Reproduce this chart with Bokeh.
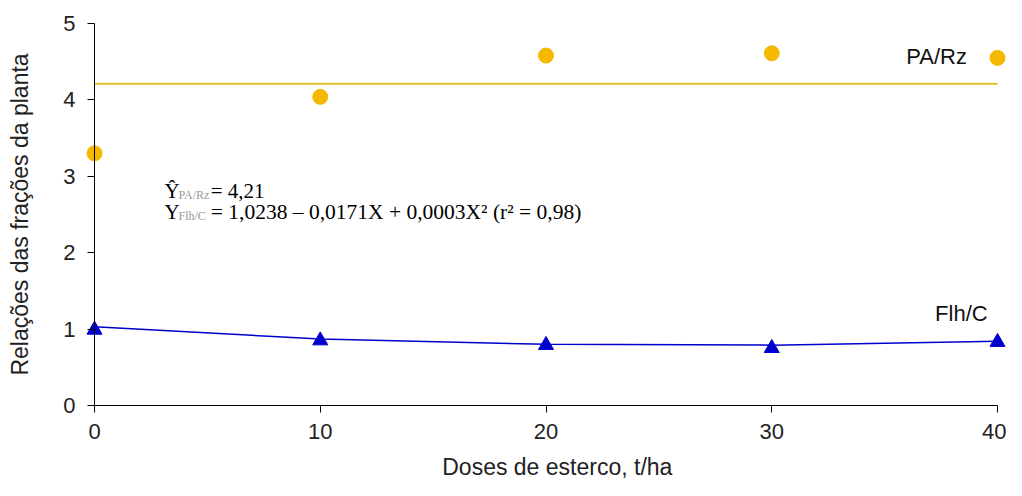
import math
from bokeh.plotting import figure
from bokeh.models import Range1d, Label, FixedTicker
from bokeh.embed import file_html
from bokeh.resources import INLINE

doses = [0, 10, 20, 30, 40]
pa_rz = [3.30, 4.04, 4.58, 4.61, 4.55]
pa_rz_mean = [4.21, 4.21, 4.21, 4.21, 4.21]
flh_c = [0.99, 0.85, 0.79, 0.75, 0.83]
flh_c_fit = [1.03, 0.87, 0.80, 0.79, 0.84]
x_ticks = [0, 10, 20, 30, 40]
y_ticks = [0, 1, 2, 3, 4, 5]

YEL = "#F5B800"
YEL_LINE = "#E6BE2A"
BLUE = "#0000CC"
TXT = "#222222"
SANS = "Liberation Sans"
SERIF = "Liberation Serif"

p = figure(width=1006, height=480, output_backend="svg", toolbar_location=None,
           x_range=Range1d(-4.164, 40.398), y_range=Range1d(-0.982, 5.301),
           min_border_left=0, min_border_right=0, min_border_top=0, min_border_bottom=0)
p.outline_line_color = None
p.xgrid.visible = False
p.ygrid.visible = False

for ax in (p.xaxis[0], p.yaxis[0]):
    ax.axis_line_color = "black"
    ax.major_tick_line_color = "black"
    ax.minor_tick_line_color = None
    ax.major_tick_in = 0
    ax.major_tick_out = 7
    ax.major_label_text_font = SANS
    ax.major_label_text_font_size = "22px"
    ax.major_label_text_color = TXT
    ax.axis_label_text_font = SANS
    ax.axis_label_text_font_size = "23px"
    ax.axis_label_text_font_style = "normal"
    ax.axis_label_text_color = TXT

p.xaxis.ticker = FixedTicker(ticks=x_ticks)
p.yaxis.ticker = FixedTicker(ticks=y_ticks)
p.xaxis.bounds = (0, 40)
p.yaxis.bounds = (0, 5)
p.xaxis.fixed_location = 0
p.yaxis.fixed_location = 0
p.xaxis.major_label_standoff = 12
p.yaxis.major_label_standoff = 12
p.yaxis.axis_label = "Relações das frações da planta"
p.yaxis.axis_label_standoff = 27

p.line(doses, pa_rz_mean, line_color=YEL_LINE, line_width=2)
p.scatter(doses, pa_rz, marker="circle", size=15, fill_color=YEL, line_color=YEL)
p.line(doses, flh_c_fit, line_color=BLUE, line_width=1.5)
p.scatter(doses, flh_c, marker="triangle", size=15, fill_color=BLUE, line_color=BLUE)

# x axis title
p.add_layout(Label(x=20.5, y=-0.81, text="Doses de esterco, t/ha", text_align="center",
                   text_baseline="middle", text_font=SANS,
                   text_font_size="23px", text_color=TXT))

# series names
p.add_layout(Label(x=37.3, y=4.57, text="PA/Rz", text_align="center", text_baseline="middle",
                   text_font=SANS, text_font_size="22px", text_color="#111111"))
p.add_layout(Label(x=38.4, y=1.21, text="Flh/C", text_align="center", text_baseline="middle",
                   text_font=SANS, text_font_size="22px", text_color="#111111"))

# regression equations
p.add_layout(Label(x=3.10, y=2.81, text="Ŷ", text_baseline="middle",
                   text_font=SERIF, text_font_size="21px", text_color="black"))
p.add_layout(Label(x=3.72, y=2.76, text="PA/Rz", text_baseline="middle",
                   text_font=SERIF, text_font_size="12px", text_color="#999999"))
p.add_layout(Label(x=5.15, y=2.81, text="= 4,21", text_baseline="middle",
                   text_font=SERIF, text_font_size="21px", text_color="black"))
p.add_layout(Label(x=3.10, y=2.53, text="Y", text_baseline="middle",
                   text_font=SERIF, text_font_size="21px", text_color="black"))
p.add_layout(Label(x=3.72, y=2.48, text="Flh/C", text_baseline="middle",
                   text_font=SERIF, text_font_size="12px", text_color="#999999"))
p.add_layout(Label(x=5.15, y=2.53, text="= 1,0238 – 0,0171X + 0,0003X² (r² = 0,98)",
                   text_baseline="middle", text_font=SERIF, text_font_size="21.5px",
                   text_color="black"))

open("out.html", "w").write(file_html(p, INLINE))
